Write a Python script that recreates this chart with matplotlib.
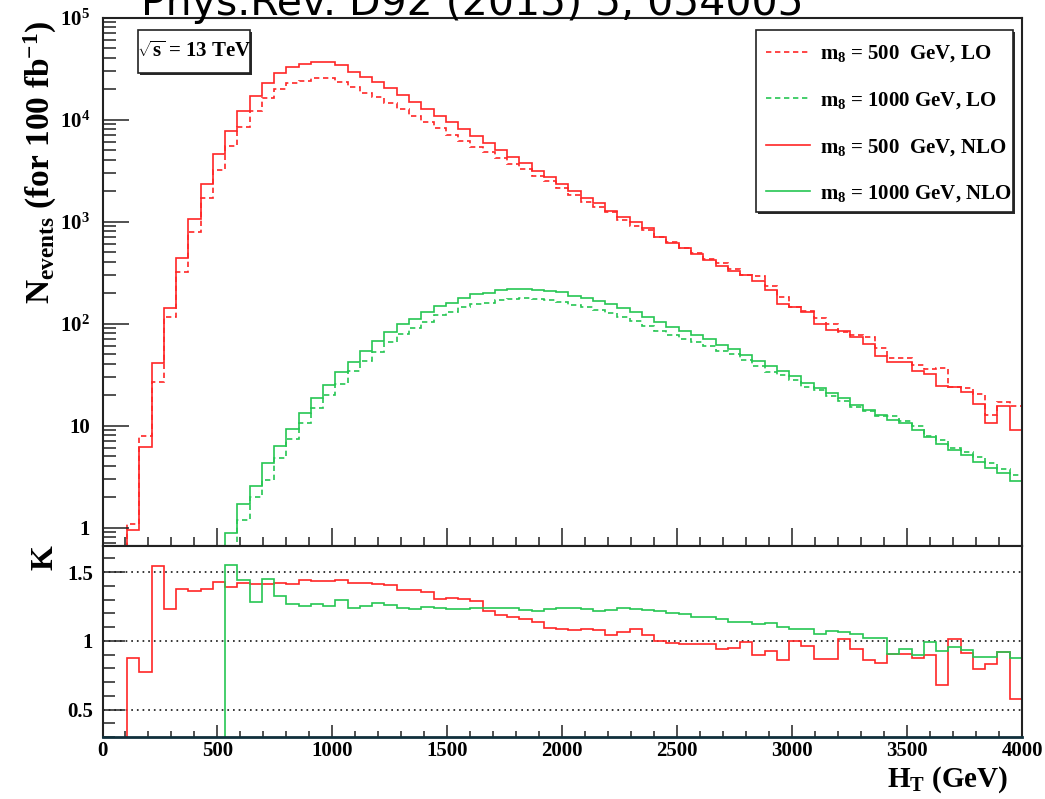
import numpy as np
import matplotlib
matplotlib.use("Agg")
import matplotlib.pyplot as plt
from matplotlib.patches import Rectangle
from matplotlib.ticker import (FixedLocator, FixedFormatter, MultipleLocator,
                               LogLocator, NullFormatter)

plt.rcParams['font.family'] = ['Liberation Serif', 'DejaVu Serif']
plt.rcParams['font.weight'] = 'bold'
plt.rcParams['mathtext.fontset'] = 'custom'
plt.rcParams['mathtext.rm'] = 'Liberation Serif:bold'
plt.rcParams['mathtext.it'] = 'Liberation Serif:bold'
plt.rcParams['mathtext.bf'] = 'Liberation Serif:bold'

# H_T binning: 75 bins from 0 to 4000 GeV
n_bins = 75
ht_max = 4000
edges = np.linspace(0, ht_max, n_bins + 1)

# m8 = 500 GeV, first filled bin and NLO event counts (100 fb^-1)
first_500 = 2
nlo_500 = [0.95, 6.1, 40.8, 141, 438, 1067, 2355, 4571, 7690, 12080,
           17060, 22900, 28300, 32400, 34700, 36300, 36300, 34000, 29400, 26200,
           23300, 20500, 17200, 14800, 12700, 10800, 9350, 8100, 6970, 5860,
           5040, 4340, 3760, 3160, 2720, 2330, 1980, 1690, 1510, 1280,
           1100, 982, 864, 711, 620, 545, 480, 420, 370, 325,
           300, 262, 214, 156, 145, 129, 99, 87, 84, 73,
           63, 48.5, 41.7, 41.7, 34.6, 32.1, 24.7, 24.1, 21.2, 16.3,
           10.5, 15.7, 9.06]
# K = NLO / LO per bin
k_500 = [0.878, 0.773, 1.541, 1.229, 1.376, 1.359, 1.376, 1.427, 1.395, 1.42,
         1.415, 1.412, 1.42, 1.412, 1.439, 1.432, 1.432, 1.444, 1.42, 1.424,
         1.417, 1.407, 1.371, 1.371, 1.356, 1.302, 1.315, 1.307, 1.288, 1.22,
         1.188, 1.176, 1.159, 1.139, 1.09, 1.083, 1.078, 1.088, 1.078, 1.041,
         1.066, 1.083, 1.041, 0.998, 0.983, 0.98, 0.976, 0.98, 0.937, 0.951,
         0.993, 0.895, 0.924, 0.863, 0.998, 0.961, 0.871, 0.871, 1.01, 0.944,
         0.863, 0.839, 0.902, 0.907, 0.878, 0.9, 0.676, 1.01, 0.912, 0.798,
         0.829, 0.92, 0.578]

# m8 = 1000 GeV
first_1000 = 10
nlo_1000 = [0.89, 1.70, 2.57, 4.26, 6.35, 9.27, 13.2, 18.7, 25.1, 33.2,
            42.4, 53.5, 66.7, 82.3, 97.9, 111, 129, 150, 160, 177,
            193, 199, 211, 216, 216, 214, 208, 202, 188, 177,
            166, 154, 142, 129, 115, 103, 92.5, 84.5, 77.2, 69.9,
            62.3, 56.9, 49.7, 42.7, 38.0, 34.5, 30.3, 26.1, 23.2, 20.7,
            18.5, 15.9, 14.2, 12.7, 11.3, 10.5, 9.0, 7.74, 6.65, 5.71,
            5.09, 4.38, 3.83, 3.44, 2.88]
k_1000 = [1.549, 1.444, 1.283, 1.449, 1.327, 1.268, 1.256, 1.268, 1.254, 1.298,
          1.241, 1.254, 1.273, 1.259, 1.239, 1.234, 1.249, 1.237, 1.232, 1.229,
          1.241, 1.241, 1.237, 1.237, 1.224, 1.22, 1.23, 1.241, 1.237, 1.229,
          1.22, 1.224, 1.237, 1.229, 1.224, 1.217, 1.2, 1.193, 1.176, 1.171,
          1.156, 1.139, 1.134, 1.122, 1.127, 1.098, 1.083, 1.083, 1.049, 1.073,
          1.066, 1.049, 1.024, 1.024, 0.902, 0.944, 0.9, 0.988, 0.924, 0.956,
          0.932, 0.883, 0.883, 0.92, 0.876]

labels = [r'$m_{8}$ = 500  GeV, LO', r'$m_{8}$ = 1000 GeV, LO',
          r'$m_{8}$ = 500  GeV, NLO', r'$m_{8}$ = 1000 GeV, NLO']

red = '#ff2626'
green = '#26c653'


def fill_bins(vals, first):
    out = np.zeros(n_bins)
    out[first:first + len(vals)] = vals
    return out


nlo5 = fill_bins(nlo_500, first_500)
k5 = fill_bins(k_500, first_500)
lo5 = np.divide(nlo5, k5, out=np.zeros(n_bins), where=k5 > 0)
nlo1 = fill_bins(nlo_1000, first_1000)
k1 = fill_bins(k_1000, first_1000)
lo1 = np.divide(nlo1, k1, out=np.zeros(n_bins), where=k1 > 0)


def floor(v):
    # empty bins drop below the log axis
    return np.where(v > 0, v, 1e-3)


W, H = 1045, 799
fig = plt.figure(figsize=(W / 100, H / 100), dpi=100)


def fx(px):
    return px / W


def fy(py):
    return 1 - py / H


def boxed(target, left, top, right, bottom, z):
    # white pave with a dark drop shadow, as drawn by ROOT
    target.add_artist(Rectangle((fx(left + 2), fy(bottom + 2)), fx(right) - fx(left),
                                fy(top) - fy(bottom), transform=fig.transFigure,
                                facecolor='#2a2a2a', edgecolor='none', zorder=z))
    target.add_artist(Rectangle((fx(left), fy(bottom)), fx(right) - fx(left),
                                fy(top) - fy(bottom), transform=fig.transFigure,
                                facecolor='white', edgecolor='#222222', lw=1.2,
                                zorder=z + 0.1))


x0, x1 = 102.5, 1022
ax = fig.add_axes([fx(x0), fy(546), fx(x1) - fx(x0), fy(17.5) - fy(546)])
axr = fig.add_axes([fx(x0), fy(737), fx(x1) - fx(x0), fy(546) - fy(737)])

dash = (0, (3.2, 2.2))
h_lo5 = ax.stairs(floor(lo5), edges, baseline=None, color=red, lw=1.2, ls=dash)
h_lo1 = ax.stairs(floor(lo1), edges, baseline=None, color=green, lw=1.2, ls=dash)
h_nlo5 = ax.stairs(floor(nlo5), edges, baseline=None, color=red, lw=1.2)
h_nlo1 = ax.stairs(floor(nlo1), edges, baseline=None, color=green, lw=1.2)

ax.set_yscale('log')
ax.set_xlim(0, ht_max)
ax.set_ylim(0.66, 1e5)
ax.yaxis.set_major_locator(FixedLocator([1, 10, 1e2, 1e3, 1e4, 1e5]))
ax.yaxis.set_major_formatter(FixedFormatter(
    ['1', '10', '$10^{2}$', '$10^{3}$', '$10^{4}$', '$10^{5}$']))
ax.yaxis.set_minor_locator(LogLocator(base=10, subs=np.arange(2, 10), numticks=20))
ax.yaxis.set_minor_formatter(NullFormatter())
ax.xaxis.set_major_locator(MultipleLocator(500))
ax.xaxis.set_minor_locator(MultipleLocator(100))
ax.tick_params(which='both', direction='in', top=False, right=False,
               labelbottom=False, width=1.1, color='#222222')
ax.tick_params(axis='y', which='major', length=18.5, labelsize=15, pad=9)
ax.tick_params(axis='y', which='minor', length=9.5)
ax.tick_params(axis='x', which='major', length=13)
ax.tick_params(axis='x', which='minor', length=6.5)

# ratio panel
axr.stairs(k5, edges, baseline=None, color=red, lw=1.2)
axr.stairs(k1, edges, baseline=None, color=green, lw=1.2)
for k in (0.5, 1.0, 1.5):
    axr.axhline(k, color='black', lw=1.1, ls=(0, (1.1, 2.6)), zorder=0.5)
axr.set_xlim(0, ht_max)
axr.set_ylim(0.3, 1.69)
axr.yaxis.set_major_locator(FixedLocator([0.5, 1.0, 1.5]))
axr.yaxis.set_major_formatter(FixedFormatter(['0.5', '1', '1.5']))
axr.yaxis.set_minor_locator(MultipleLocator(0.1))
axr.xaxis.set_major_locator(MultipleLocator(500))
axr.xaxis.set_minor_locator(MultipleLocator(100))
axr.tick_params(which='both', direction='in', top=False, right=False,
                width=1.1, color='#222222', labelsize=15)
axr.tick_params(axis='y', which='major', length=16, pad=7)
axr.tick_params(axis='y', which='minor', length=8.5)
axr.tick_params(axis='x', which='major', length=8.5, pad=3)
axr.tick_params(axis='x', which='minor', length=4.5)

for a in (ax, axr):
    for s in a.spines.values():
        s.set_linewidth(1.5)
        s.set_color('#222222')
axr.spines['bottom'].set_color('#10303c')
axr.spines['bottom'].set_linewidth(2)

# legend pave
boxed(ax, 756, 30, 1013, 212, 4)
leg = ax.legend([h_lo5, h_lo1, h_nlo5, h_nlo1], labels,
                loc='upper left', bbox_to_anchor=(fx(756), fy(33)),
                bbox_transform=fig.transFigure, borderaxespad=0,
                fontsize=15, frameon=False, borderpad=0.5,
                labelspacing=1.24, handlelength=2.1, handletextpad=0.45)
leg.set_zorder(6)

# sqrt(s) pave
boxed(fig, 138, 30, 250, 73, 5)
fig.text(fx(194), fy(52), r'$\sqrt{s}$ = 13 TeV', ha='center', va='center',
         fontsize=15, zorder=7)

fig.text(fx(40), fy(20), r'$N_{events}$ (for 100 fb$^{-1}$)', rotation=90,
         ha='center', va='top', fontsize=24)
fig.text(fx(45), fy(545), 'K', rotation=90, ha='center', va='top', fontsize=23)
fig.text(fx(1008), fy(787), r'H$_{T}$ (GeV)', ha='right', va='baseline',
         fontsize=21)

fig.text(fx(472), fy(15), 'Phys.Rev. D92 (2015) 5, 054005', ha='center',
         va='baseline', fontsize=29.5, family='DejaVu Sans', fontweight='normal')

fig.savefig('out.png', dpi=100)
